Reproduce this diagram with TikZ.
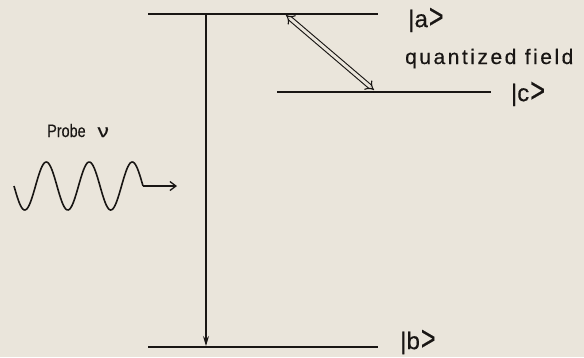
\documentclass[tikz,border=0pt]{standalone}
\usepackage{fontspec}
\usepackage{graphicx}
\setmainfont{Liberation Sans}
\newfontfamily\inkfont{Liberation Sans}[FakeBold=0.4]
\usetikzlibrary{arrows.meta}
\definecolor{paper}{RGB}{234,229,219}
\definecolor{ink}{RGB}{25,22,20}
\newcommand{\myket}[1]{{\fontsize{24}{24}\selectfont\inkfont |#1\hspace{1pt}\raisebox{-1pt}{\scalebox{1.05}[1.45]{>}}}}
\begin{document}
\begin{tikzpicture}[x=1pt,y=-1pt,
  level/.style={draw=ink,line width=2.6pt},
  lbl/.style={text=ink,inner sep=0pt,font=\fontsize{21}{21}\selectfont\inkfont},
  ket/.style={text=ink,inner sep=0pt}]
\fill[paper] (0,0) rectangle (584,357);
\useasboundingbox (0,0) rectangle (584,357);
% level end points
\coordinate (aL) at (148,14); \coordinate (aR) at (378,14);
\coordinate (cL) at (277,92); \coordinate (cR) at (491,92);
\coordinate (bL) at (148,347); \coordinate (bR) at (378,347);
\draw[level] (aL) -- (aR);
\draw[level] (cL) -- (cR);
\draw[level] (bL) -- (bR);
% vertical transition
\coordinate (vtop) at (206,14); \coordinate (vbot) at (206,346);
\draw[ink,line width=1.2pt,-{Stealth[length=10pt,width=6pt]}] (vtop) -- (vbot);
% double arrow quantized field
\coordinate (qa) at (286,15); \coordinate (qc) at (374,90);
\draw[ink,line width=1.1pt,double=paper,double distance=3pt,{Implies}-{Implies}] (qa) -- (qc);
% labels
\node[ket] (ka) at (426,20) {\myket{a}};
\node[ket] (kc) at (528,94) {\myket{c}};
\node[ket] (kb) at (418,342) {\myket{b}};
\node[lbl,anchor=base west] (qf) at (405,64) {\addfontfeatures{LetterSpace=12}quantized field};
\node[text=ink,inner sep=0pt,anchor=base west,font=\fontsize{18}{18}\selectfont\inkfont] (pr) at (47,137) {\scalebox{0.8}[1]{Probe}\hspace{12pt}\scalebox{1.25}[1]{ν}};
% probe wave
\coordinate (ws) at (14,186); \coordinate (we) at (143,186); \coordinate (wt) at (177,186);
\draw[ink,line width=1.6pt,smooth] plot[domain=0:129,samples=120,variable=\t] ({14+\t},{186+24*sin(8.3721*\t)});
\draw[ink,line width=1.3pt,-{Straight Barb[length=6pt,width=9pt]}] (we) -- (wt);
\end{tikzpicture}
\end{document}
